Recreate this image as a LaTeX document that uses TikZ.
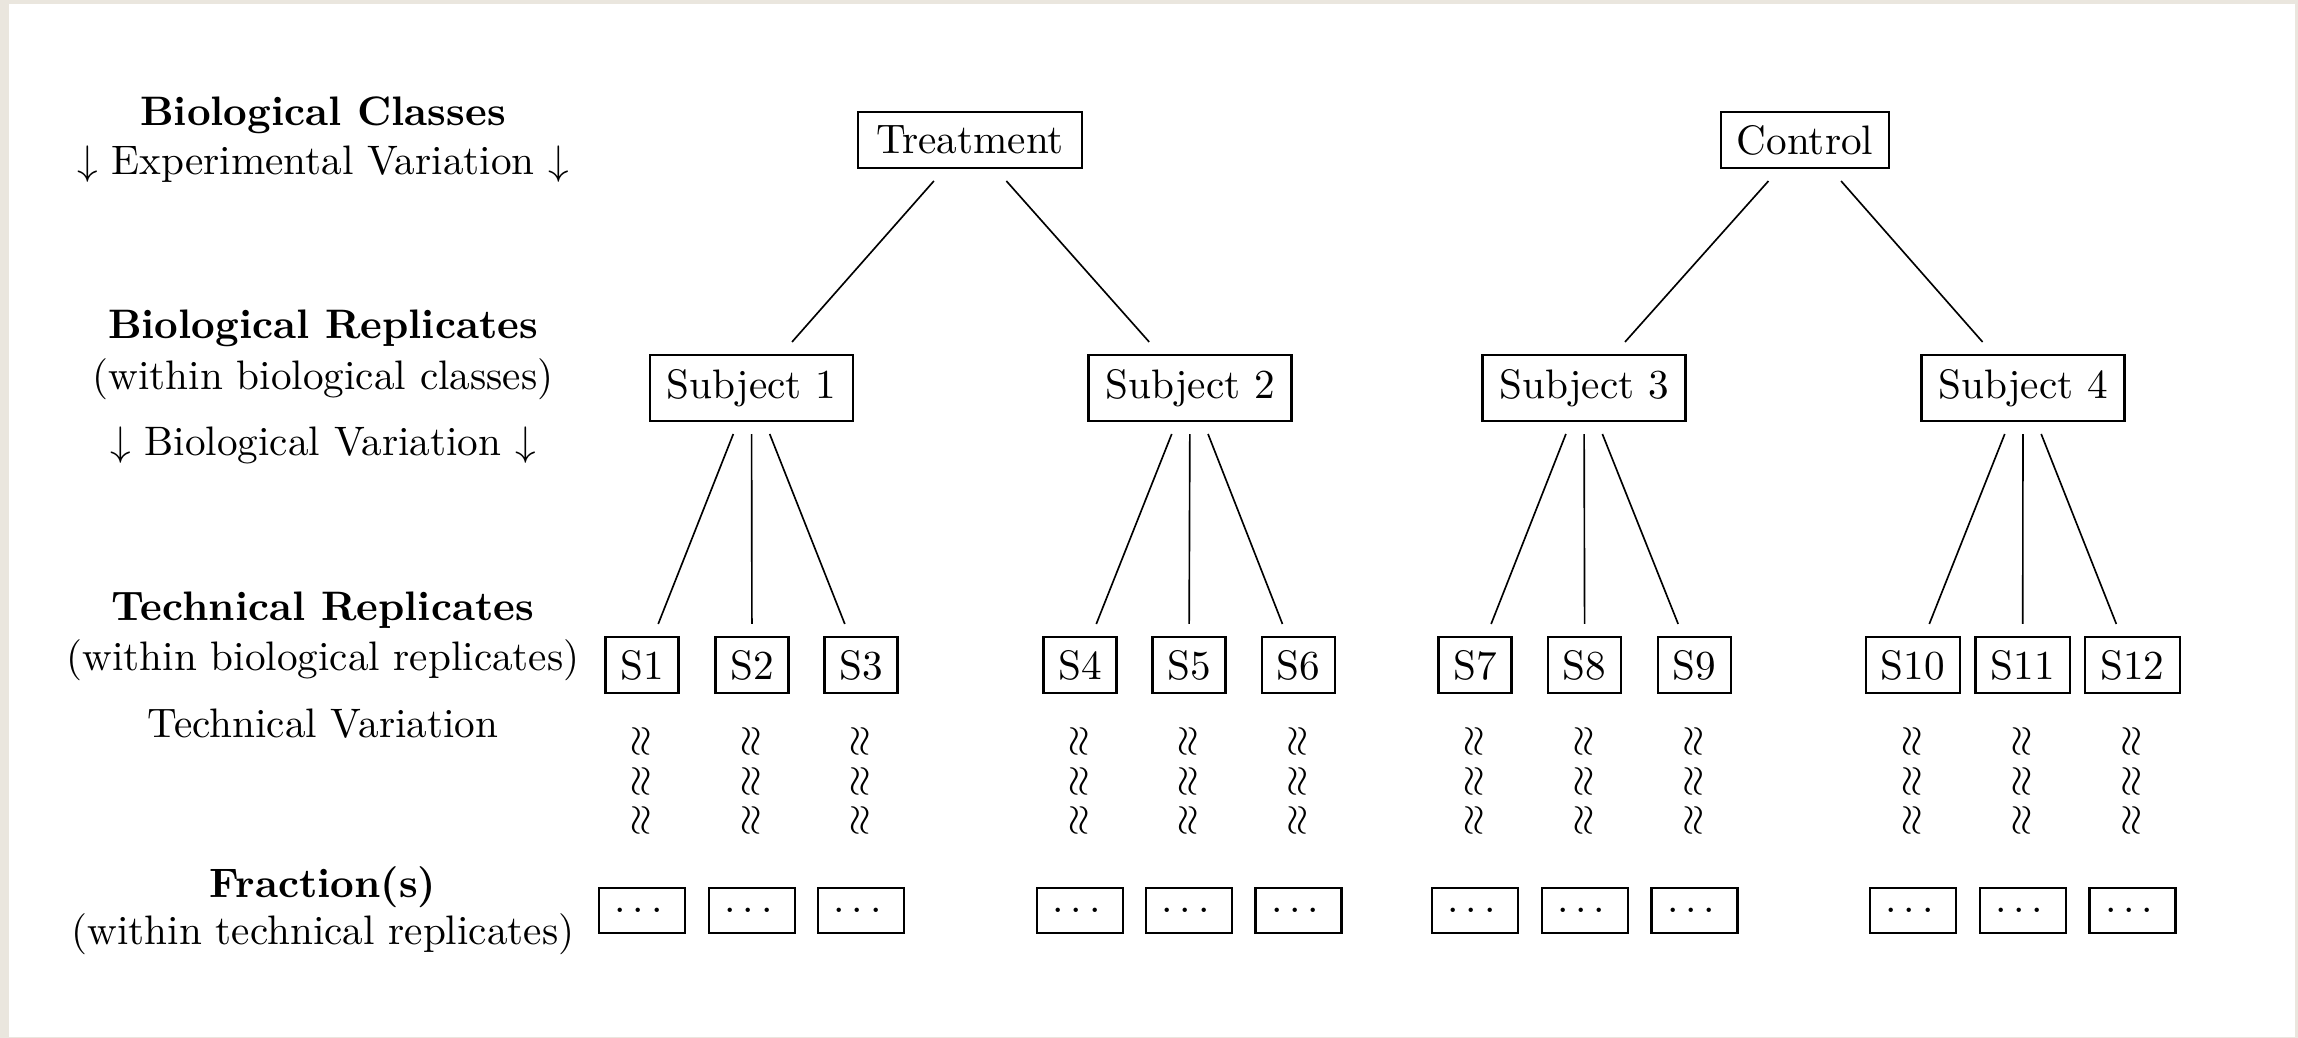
\documentclass[tikz,border=0pt]{standalone}
\usepackage{amsmath}
\definecolor{framebeige}{HTML}{EAE6DE}
\newcommand{\fracdots}{.\kern1.67pt.\kern1.67pt.\kern1.67pt}
\tikzset{
  box/.style 2 args={draw, line width=0.5pt, inner sep=0pt, outer sep=3.16pt,
    minimum width=#1*0.24272pt, minimum height=#2*0.24272pt},
  lbl/.style={anchor=base, inner sep=0pt},
  wave/.style={rotate=90, inner sep=0pt},
  conn/.style={line width=0.4pt}
}
\begin{document}
\begin{tikzpicture}[x=0.24272pt,y=-0.24272pt]
\fill[framebeige] (0,0) rectangle (2298,1038);
\fill[white] (9,4) rectangle (2295,1037);
\useasboundingbox (0,0) rectangle (2298,1038);

% left labels
\node[lbl] (l1) at (323,125.7) {\textbf{Biological Classes}};
\node[lbl] (l2) at (323,175) {$\downarrow$ Experimental Variation $\downarrow$};
\node[lbl] (l3) at (323,339) {\textbf{Biological Replicates}};
\node[lbl] (l4) at (323,390) {(within biological classes)};
\node[lbl] (l5) at (323,456) {$\downarrow$ Biological Variation $\downarrow$};
\node[lbl] (l6) at (323,621) {\textbf{Technical Replicates}};
\node[lbl] (l7) at (323,671) {(within biological replicates)};
\node[lbl] (l8) at (323,738) {Technical Variation};
\node[lbl] (l9) at (323,898) {\textbf{Fraction(s)}};
\node[lbl] (l10) at (323,945) {(within technical replicates)};

% classes
\node[box={224}{56}] (treat) at (970,140) {Treatment};
\node[box={168}{56}] (ctrl) at (1805,140) {Control};

% subjects
\node[box={203}{66}] (sub1) at (751.5,388) {Subject 1};
\node[box={203}{66}] (sub2) at (1190,388) {Subject 2};
\node[box={203}{66}] (sub3) at (1584,388) {Subject 3};
\node[box={203}{66}] (sub4) at (2023,388) {Subject 4};

% technical replicates, waves, fractions
\foreach \i/\x/\w in {1/642/73,2/752/73,3/861/73,4/1080/73,5/1189/73,6/1298.5/73,
                      7/1475/73,8/1584.7/73,9/1694.5/73,10/1913/94.5,11/2022.7/94.5,12/2132.5/94.5}{
  \node[box={\w}{56}] (s\i) at (\x,665) {S\i};
  \node[box={86}{45}] (f\i) at (\x,910.5) {\fracdots};
  \node[wave] (wa\i) at (\x,741) {$\approx$};
  \node[wave] (wb\i) at (\x,781) {$\approx$};
  \node[wave] (wc\i) at (\x,820) {$\approx$};
}

% connectors
\foreach \p/\c in {treat/sub1,treat/sub2,ctrl/sub3,ctrl/sub4,
                   sub1/s1,sub1/s2,sub1/s3,sub2/s4,sub2/s5,sub2/s6,
                   sub3/s7,sub3/s8,sub3/s9,sub4/s10,sub4/s11,sub4/s12}{
  \draw[conn] (\p) -- (\c);
}
\end{tikzpicture}
\end{document}
